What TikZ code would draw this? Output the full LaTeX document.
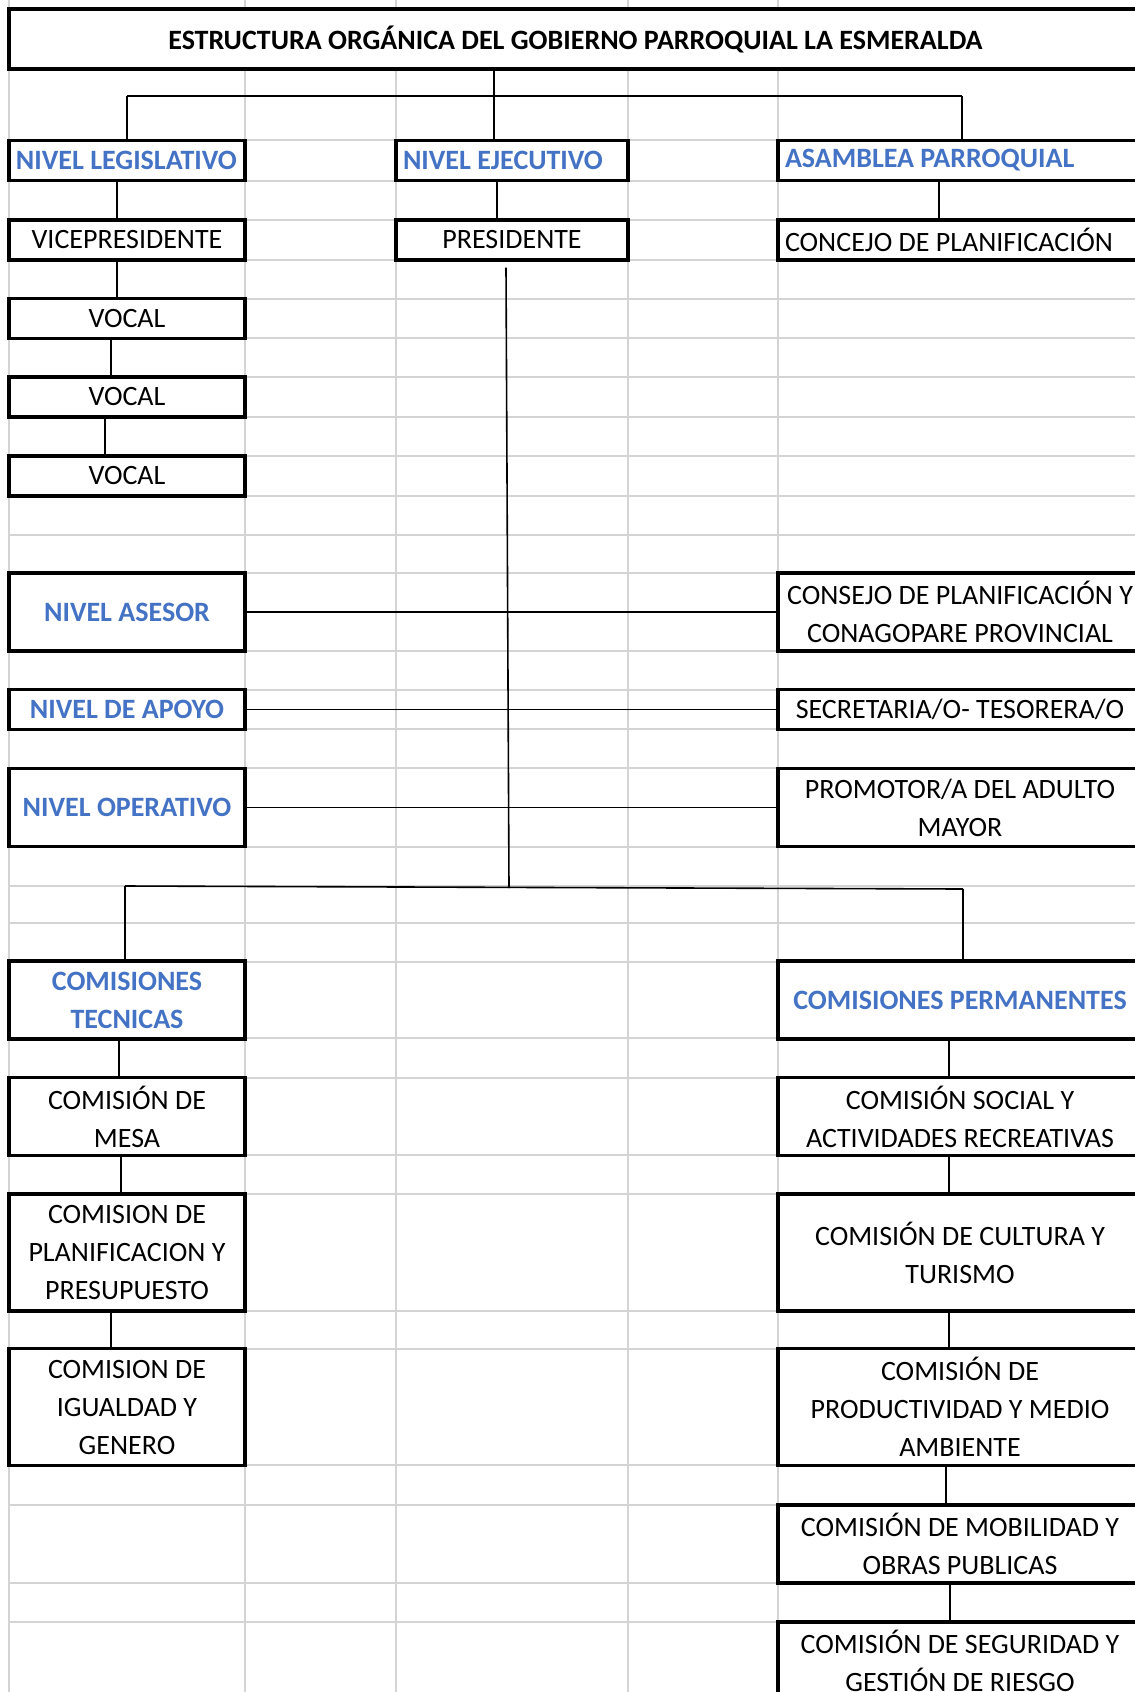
\documentclass[tikz,border=0pt]{standalone}
\usepackage{fontspec}
\setmainfont{Carlito}
\definecolor{lvlblue}{HTML}{4472C4}
\definecolor{gridgray}{HTML}{D4D4D4}

\begin{document}
\begin{tikzpicture}[x=0.5pt, y=-0.5pt,
  every node/.style={font=\fontsize{14}{19}\selectfont},
  cell/.style={draw, line width=1.6pt, fill=white, inner sep=0pt, align=center},
  colL/.style={cell, minimum width=118pt},
  colM/.style={cell, minimum width=116pt},
  colR/.style={cell, minimum width=182pt},
  tall1/.style={minimum height=20pt},
  tall2/.style={minimum height=39pt},
  tall3/.style={minimum height=58.5pt},
  lvl/.style={text=lvlblue, font=\fontsize{14}{19}\selectfont\bfseries},
  leftcell/.style={inner xsep=3.5pt},
  gridline/.style={gridgray, line width=0.75pt},
  link/.style={line width=0.8pt}]
  \useasboundingbox (0,0) rectangle (1135,1692);
  \clip (0,0) rectangle (1135,1692);
  \fill[white] (0,0) rectangle (1135,1692);

  % sheet grid
  \foreach \gx in {9,245,396,628,778}
    \draw[gridline] (\gx,0) -- (\gx,1692);
  \foreach \gy in {9,69,140,181,220,260,299,338,377,417,456,496,535,573,651,690,729,768,847,886,923,962,1038,1078,1155,1194,1311,1349,1465,1505,1583,1622}
    \draw[gridline] (9,\gy) -- (1135,\gy);

  \node[cell, minimum width=566.5pt, minimum height=30pt, font=\fontsize{14}{19}\selectfont\bfseries] (title) at (575.5,39) {ESTRUCTURA ORGÁNICA DEL GOBIERNO PARROQUIAL LA ESMERALDA};

  \node[colL, tall1, lvl, leftcell] (leg) at (127,160.5) {\makebox[111pt][l]{NIVEL LEGISLATIVO}};
  \node[colM, tall1, lvl, leftcell] (eje) at (512,160.5) {\makebox[109pt][l]{NIVEL EJECUTIVO}};
  \node[colR, tall1, lvl, leftcell] (asam) at (960,160.5) {\makebox[175pt][l]{ASAMBLEA PARROQUIAL}};
  \node[colL, tall1] (vice) at (127,240) {VICEPRESIDENTE};
  \node[colM, tall1] (pres) at (512,240) {PRESIDENTE};
  \node[colR, tall1, leftcell] (concejo) at (960,240) {\makebox[175pt][l]{CONCEJO DE PLANIFICACIÓN}};
  \node[colL, tall1] (vocal1) at (127,318.5) {VOCAL};
  \node[colL, tall1] (vocal2) at (127,397) {VOCAL};
  \node[colL, tall1] (vocal3) at (127,476) {VOCAL};

  \node[colL, tall2, lvl] (asesor) at (127,612) {NIVEL ASESOR};
  \node[colR, tall2] (consejo) at (960,612) {CONSEJO DE PLANIFICACIÓN Y\\CONAGOPARE PROVINCIAL};
  \node[colL, tall1, lvl] (apoyo) at (127,709.5) {NIVEL DE APOYO};
  \node[colR, tall1] (secre) at (960,709.5) {SECRETARIA/O- TESORERA/O};
  \node[colL, tall2, lvl] (operativo) at (127,807.5) {NIVEL OPERATIVO};
  \node[colR, tall2] (promotor) at (960,807.5) {PROMOTOR/A DEL ADULTO\\MAYOR};

  \node[colL, tall2, lvl] (tecnicas) at (127,1000) {COMISIONES\\TECNICAS};
  \node[colR, tall2, lvl] (perman) at (960,1000) {COMISIONES PERMANENTES};
  \node[colL, tall2] (mesa) at (127,1116.5) {COMISIÓN DE\\MESA};
  \node[colR, tall2] (social) at (960,1116.5) {COMISIÓN SOCIAL Y\\ACTIVIDADES RECREATIVAS};
  \node[colL, tall3] (planif) at (127,1252.5) {COMISION DE\\PLANIFICACION Y\\PRESUPUESTO};
  \node[colR, tall3] (cultura) at (960,1252.5) {COMISIÓN DE CULTURA Y\\TURISMO};
  \node[colL, tall3] (igualdad) at (127,1407) {COMISION DE\\IGUALDAD Y\\GENERO};
  \node[colR, tall3] (produc) at (960,1407) {COMISIÓN DE\\PRODUCTIVIDAD Y MEDIO\\AMBIENTE};
  \node[colR, tall2] (movil) at (960,1544) {COMISIÓN DE MOBILIDAD Y\\OBRAS PUBLICAS};
  \node[colR, tall2] (segur) at (960,1661) {COMISIÓN DE SEGURIDAD Y\\GESTIÓN DE RIESGO};

  % top branches
  \coordinate (topL) at (127,96);
  \coordinate (topR) at (962,96);
  \draw[link] ([xshift=-9pt]eje.north |- title.south) -- ([xshift=-9pt]eje.north);
  \draw[link] (topL) -- (topR);
  \draw[link] (topL) -- (leg.north);
  \draw[link] (topR) -- (topR |- asam.north);
  \draw[link] ([xshift=-5pt]leg.south) -- ([xshift=-5pt]vice.north);
  \draw[link] ([xshift=-5pt]vice.south) -- ([xshift=-5pt]vocal1.north);
  \draw[link] ([xshift=-8pt]vocal1.south) -- ([xshift=-8pt]vocal2.north);
  \draw[link] ([xshift=-11pt]vocal2.south) -- ([xshift=-11pt]vocal3.north);
  \draw[link] ([xshift=-7.5pt]eje.south) -- ([xshift=-7.5pt]pres.north);
  \draw[link] ([xshift=-10.5pt]asam.south) -- ([xshift=-10.5pt]concejo.north);

  % levels
  \coordinate (botL) at (125,886);
  \coordinate (botM) at (509,888);
  \coordinate (botR) at (963,889);
  \draw[link] ([xshift=-3pt,yshift=-3pt]pres.south) -- (botM);
  \draw[link] (asesor.east) -- (consejo.west);
  \draw[link] (apoyo.east) -- (secre.west);
  \draw[link] (operativo.east) -- (promotor.west);
  \draw[link] (botL) -- (botR);
  \draw[link] (botL) -- (botL |- tecnicas.north);
  \draw[link] (botR) -- (botR |- perman.north);

  % comisiones
  \draw[link] ([xshift=-4pt]tecnicas.south) -- ([xshift=-4pt]mesa.north);
  \draw[link] ([xshift=-3pt]mesa.south) -- ([xshift=-3pt]planif.north);
  \draw[link] ([xshift=-8pt]planif.south) -- ([xshift=-8pt]igualdad.north);
  \draw[link] ([xshift=-5.5pt]perman.south) -- ([xshift=-5.5pt]social.north);
  \draw[link] ([xshift=-5.5pt]social.south) -- ([xshift=-5.5pt]cultura.north);
  \draw[link] ([xshift=-5.5pt]cultura.south) -- ([xshift=-5.5pt]produc.north);
  \draw[link] ([xshift=-7pt]produc.south) -- ([xshift=-7pt]movil.north);
  \draw[link] ([xshift=-5pt]movil.south) -- ([xshift=-5pt]segur.north);
\end{tikzpicture}
\end{document}
